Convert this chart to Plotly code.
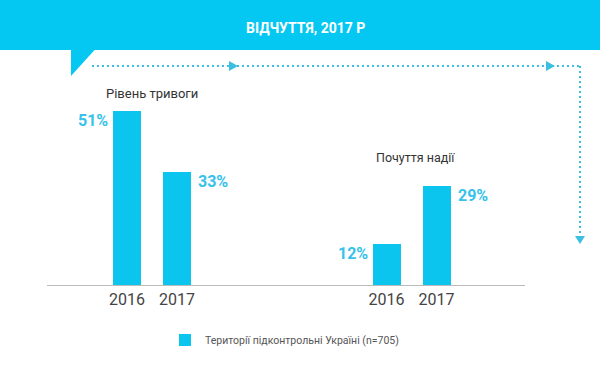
import plotly.graph_objects as go

# ---- data ----
years = ["2016", "2017"]
anxiety = [51, 33]          # Рівень тривоги
hope = [12, 29]             # Почуття надії
group_titles = ["Рівень тривоги", "Почуття надії"]
series_name = "Території підконтрольні Україні (n=705)"
title_text = "ВІДЧУТТЯ, 2017 Р"

# ---- styling ----
W, H = 600, 368
BASE = 285                      # pixel row of baseline
PX_PER_PCT = 3.41
BAR = "#0BC5EF"
LABEL = "#36C2EA"
DOT = "#3BBFE2"
FONT = "Roboto"


def px(x):
    return x / W


def py(y):
    return (BASE - y) / BASE


fig = go.Figure()
fig.add_trace(go.Bar(x=years, y=anxiety, xaxis="x", yaxis="y", width=0.56,
                     marker=dict(color=BAR, line=dict(width=0)),
                     name=series_name, legendgroup="g", showlegend=True,
                     hoverinfo="x+y"))
fig.add_trace(go.Bar(x=years, y=hope, xaxis="x2", yaxis="y", width=0.56,
                     marker=dict(color=BAR, line=dict(width=0)),
                     name=series_name, legendgroup="g", showlegend=False,
                     hoverinfo="x+y"))

annotations = []
for xref, vals in (("x", anxiety), ("x2", hope)):
    for i, v in enumerate(vals):
        left = i == 0
        annotations.append(dict(
            x=i, y=v, xref=xref, yref="y", text=f"{v}%", showarrow=False,
            xanchor="right" if left else "left", yanchor="middle",
            xshift=-17 if left else 19, yshift=-9,
            font=dict(family=FONT, size=16, color=LABEL, weight="bold")))

annotations += [
    dict(x=px(152), y=py(93), xref="paper", yref="paper", text=group_titles[0],
         showarrow=False, xanchor="center", yanchor="middle",
         font=dict(family=FONT, size=13, color="#333333")),
    dict(x=px(415), y=py(158), xref="paper", yref="paper", text=group_titles[1],
         showarrow=False, xanchor="center", yanchor="middle",
         font=dict(family=FONT, size=12.5, color="#333333")),
    dict(x=px(305), y=py(28), xref="paper", yref="paper", text=title_text,
         showarrow=False, xanchor="center", yanchor="middle",
         font=dict(family=FONT, size=14, color="white", weight="bold")),
]


def P(*pts):
    s = "M " + " L ".join(f"{px(a):.5f},{py(b):.5f}" for a, b in pts) + " Z"
    return s


shapes = [
    dict(type="rect", xref="paper", yref="paper", x0=0, x1=1, y0=py(50), y1=py(0),
         fillcolor="#05C8F2", line=dict(width=0), layer="below"),
    dict(type="path", xref="paper", yref="paper", path=P((71, 49.5), (95, 49.5), (71, 76)),
         fillcolor="#05C8F2", line=dict(width=0)),
    dict(type="line", xref="paper", yref="paper", x0=px(92), x1=px(580), y0=py(66), y1=py(66),
         line=dict(color=DOT, width=2, dash="2px,3px")),
    dict(type="line", xref="paper", yref="paper", x0=px(580), x1=px(580), y0=py(66), y1=py(236),
         line=dict(color=DOT, width=2, dash="2px,3px")),
    dict(type="path", xref="paper", yref="paper", path=P((229, 61), (238, 66), (229, 71)),
         fillcolor=DOT, line=dict(width=0)),
    dict(type="path", xref="paper", yref="paper", path=P((546, 61), (555, 66), (546, 71)),
         fillcolor=DOT, line=dict(width=0)),
    dict(type="path", xref="paper", yref="paper", path=P((575, 236), (585, 236), (580, 244)),
         fillcolor=DOT, line=dict(width=0)),
]

axis_common = dict(type="category", showline=True, linecolor="#BBBBBB", linewidth=1,
                   showgrid=False, zeroline=False, ticks="", fixedrange=True,
                   tickfont=dict(family=FONT, size=16, color="#444444"))

fig.update_layout(
    width=W, height=H,
    margin=dict(l=0, r=0, t=0, b=H - BASE),
    paper_bgcolor="white", plot_bgcolor="white",
    bargap=0,
    xaxis=dict(domain=[47 / W, 270 / W], range=[-1.6, 2.86], anchor="y", **axis_common),
    xaxis2=dict(domain=[270 / W, 525 / W], range=[-2.33, 2.77], anchor="y", **axis_common),
    yaxis=dict(range=[0, BASE / PX_PER_PCT], visible=False, fixedrange=True),
    showlegend=True,
    legend=dict(orientation="h", x=px(165), xanchor="left", y=py(340), yanchor="middle",
                font=dict(family=FONT, size=10.5, color="#555555"),
                bgcolor="rgba(0,0,0,0)"),
    annotations=annotations,
    shapes=shapes,
)

fig.write_html("out.html", config={"displayModeBar": False},
               post_script="document.body.style.margin='0';")
